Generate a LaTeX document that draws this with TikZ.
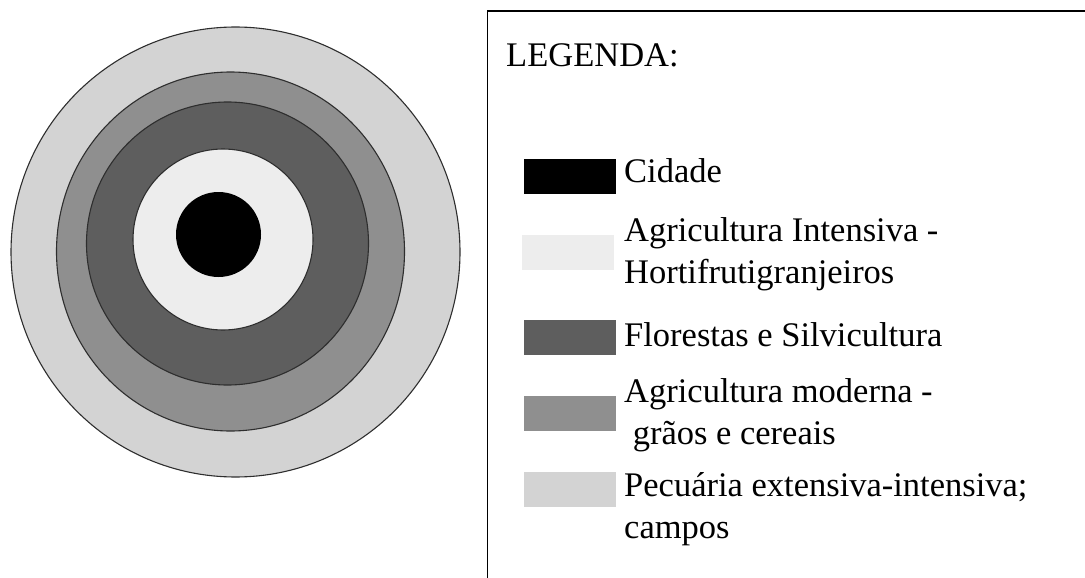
\documentclass[tikz,border=0pt]{standalone}
\usepackage{fontspec}
\setmainfont{Liberation Serif}
\definecolor{cidade}{gray}{0}
\definecolor{horti}{HTML}{EDEDED}
\definecolor{floresta}{HTML}{5E5E5E}
\definecolor{graos}{HTML}{8F8F8F}
\definecolor{campos}{HTML}{D3D3D3}
\definecolor{anel}{HTML}{2E2E2E}
\begin{document}
\begin{tikzpicture}[x=1pt, y=-1pt,
		ring/.style={draw=anel, line width=1.1pt},
		swatch/.style={inner sep=0pt, minimum width=92pt, minimum height=35pt, anchor=north west},
		legtext/.style={anchor=base west, inner sep=0pt, align=left, font=\fontsize{34.5}{42}\selectfont}]
	\useasboundingbox (0,0) rectangle (1085,578);
	% aneis
	\filldraw[ring, fill=campos] (235.5,252) circle [x radius=224.5pt, y radius=225pt];
	\filldraw[ring, fill=graos] (230.5,251.5) circle [x radius=174pt, y radius=179.5pt];
	\filldraw[ring, fill=floresta] (227.5,243.5) circle [x radius=141pt, y radius=141.5pt];
	\filldraw[ring, fill=horti] (223,239.5) circle [x radius=90pt, y radius=90.5pt];
	\fill[cidade] (218.5,234.5) circle (42.5pt);
	% legenda
	\draw[line width=1.3pt] (1085,11) -- (487.5,11) -- (487.5,578);
	\node[legtext] (titulo) at (506,66.3) {LEGENDA:};
	\node[swatch, fill=cidade] (sw-cidade) at (523.5,159) {};
	\node[legtext] (tx-cidade) at (624,182.5) {Cidade};
	\node[swatch, fill=horti] (sw-horti) at (521.5,235) {};
	\node[legtext] (tx-horti) at (624,283.8) {Agricultura Intensiva -\\Hortifrutigranjeiros};
	\node[swatch, fill=floresta] (sw-floresta) at (523.5,320) {};
	\node[legtext] (tx-floresta) at (624,346.5) {Florestas e Silvicultura};
	\node[swatch, fill=graos] (sw-graos) at (523.5,396) {};
	\node[legtext] (tx-graos) at (624,444) {Agricultura moderna -\\~grãos e cereais};
	\node[swatch, fill=campos] (sw-campos) at (523.5,472) {};
	\node[legtext] (tx-campos) at (624,538) {Pecuária extensiva-intensiva;\\campos};
\end{tikzpicture}
\end{document}
